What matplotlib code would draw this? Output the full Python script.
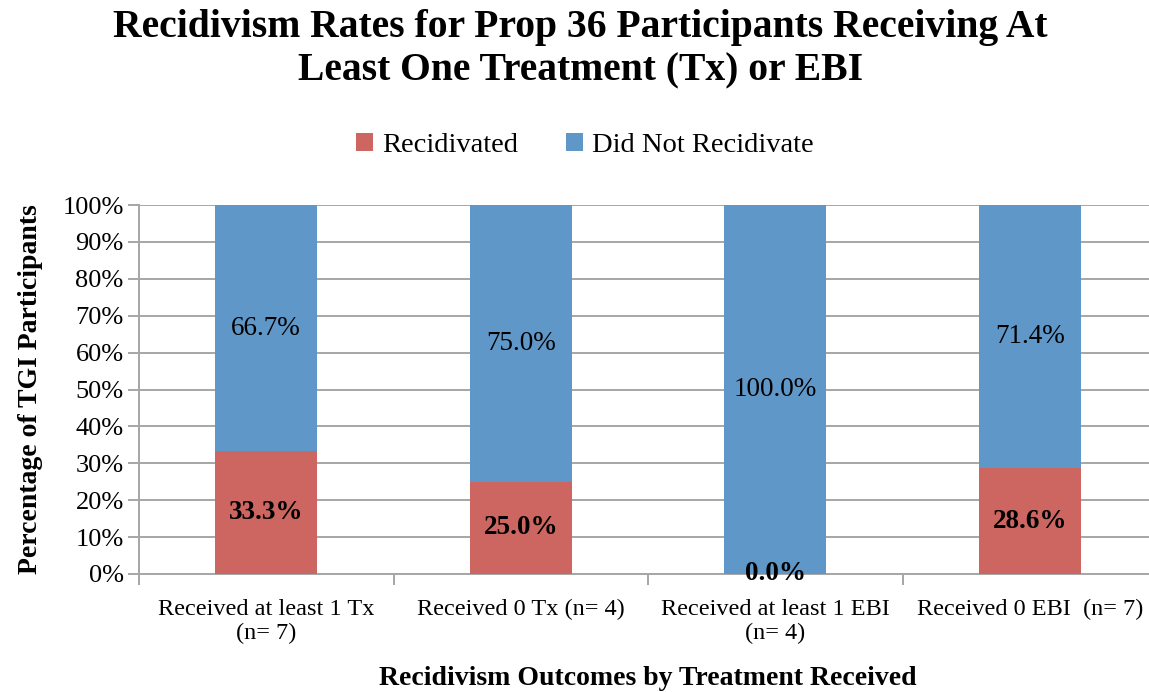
import numpy as np
import matplotlib.pyplot as plt
from matplotlib.ticker import FixedLocator, PercentFormatter

plt.rcParams['font.family'] = ['Liberation Serif', 'DejaVu Serif']

# Data
categories = ["Received at least 1 Tx\n(n= 7)", "Received 0 Tx (n= 4)",
              "Received at least 1 EBI\n(n= 4)", "Received 0 EBI  (n= 7)"]
recidivated = [33.3, 25.0, 0.0, 28.6]
did_not = [66.7, 75.0, 100.0, 71.4]

red = '#CD6661'
blue = '#6097C9'
grid_col = '#A6A6A6'

fig = plt.figure(figsize=(11.49, 6.92), dpi=100)
ax = fig.add_axes([139 / 1149, 1 - 574 / 692, (1157 - 139) / 1149, (574 - 205) / 692])

x = np.arange(len(categories))
b1 = ax.bar(x, recidivated, width=0.4, color=red, label='Recidivated', zorder=3)
b2 = ax.bar(x, did_not, width=0.4, bottom=recidivated, color=blue,
            label='Did Not Recidivate', zorder=3)

# segment labels
for xi, r, d in zip(x, recidivated, did_not):
    ax.text(xi, r / 2, f"{r:.1f}%", ha='center', va='center',
            fontsize=19.5, fontweight='bold', zorder=4)
    ax.text(xi, r + d / 2, f"{d:.1f}%", ha='center', va='center',
            fontsize=19.5, zorder=4)

ax.set_xlim(-0.5, 3.5)
ax.set_ylim(0, 100)
ax.set_yticks(np.arange(0, 101, 10))
ax.yaxis.set_major_formatter(PercentFormatter(decimals=0))
ax.grid(axis='y', color=grid_col, linewidth=1.4, zorder=0)

ax.set_xticks(x)
ax.set_xticklabels(categories, fontsize=17.5, linespacing=1.15)
ax.tick_params(axis='x', which='major', length=0, pad=18)
ax.xaxis.set_minor_locator(FixedLocator(np.arange(-0.5, 4, 1)))
ax.tick_params(axis='x', which='minor', length=8, width=1.4, color=grid_col)
ax.tick_params(axis='y', length=8, width=1.4, color=grid_col, labelsize=19, pad=3)

for s in ['top', 'right']:
    ax.spines[s].set_visible(False)
for s in ['left', 'bottom']:
    ax.spines[s].set_color(grid_col)
    ax.spines[s].set_linewidth(1.4)

ax.set_ylabel('Percentage of TGI Participants', fontsize=20, fontweight='bold', labelpad=14)
ax.set_xlabel('Recidivism Outcomes by Treatment Received', fontsize=20,
              fontweight='bold', labelpad=16)

fig.text(0.505, 0.929,
         'Recidivism Rates for Prop 36 Participants Receiving At\nLeast One Treatment (Tx) or EBI',
         ha='center', va='center', fontsize=28.5, fontweight='bold', linespacing=1.24)

fig.legend(handles=[b1, b2], loc='center', bbox_to_anchor=(0.509, 0.79), ncol=2,
           frameon=False, fontsize=20.5, handlelength=0.6, handleheight=0.6,
           handletextpad=0.3, columnspacing=1.7)

fig.savefig('out.png', dpi=100)
